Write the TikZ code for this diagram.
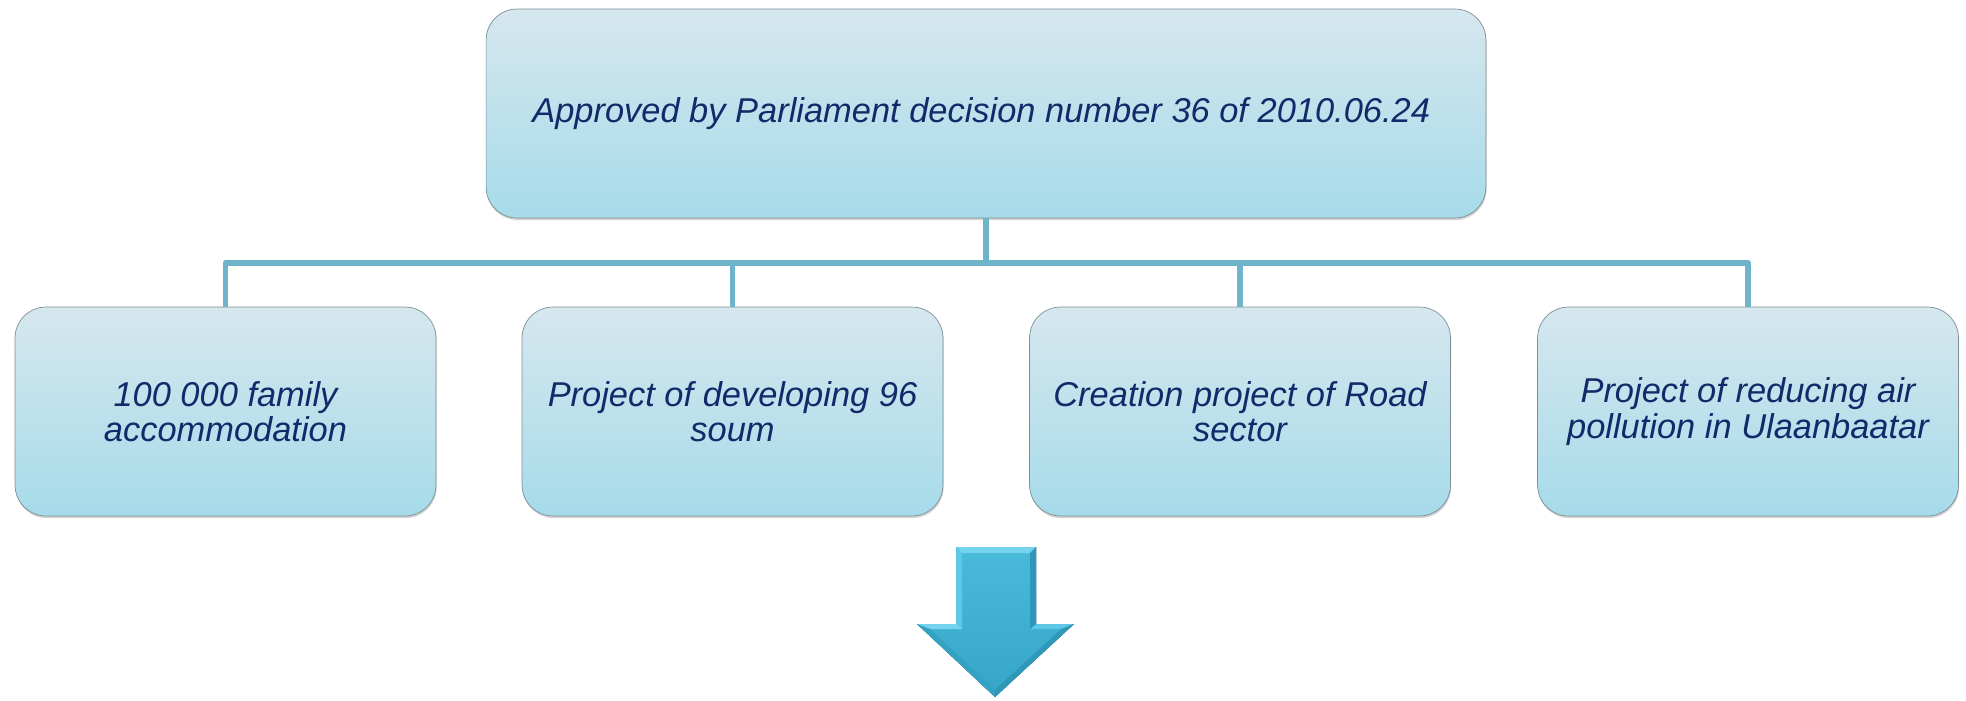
\documentclass[tikz,border=0pt]{standalone}
\usepackage{fontspec}
\setmainfont{Liberation Sans}
\usetikzlibrary{positioning,shadows}

\definecolor{boxtop}{HTML}{D6E7EE}
\definecolor{boxbottom}{HTML}{A6DBEA}
\definecolor{boxline}{HTML}{7E8E95}
\definecolor{textnavy}{HTML}{13296A}
\definecolor{busline}{HTML}{6EB5CB}
\definecolor{arrowblue}{HTML}{3AB4D8}
\definecolor{arrowlight}{HTML}{74D4EF}
\definecolor{arrowdark}{HTML}{2F98BA}

\begin{document}
\begin{tikzpicture}[x=0.02cm, y=-0.02cm,
	project/.style={draw=boxline,
		rounded corners=0.62cm,
		top color=boxtop,
		bottom color=boxbottom,
		minimum width=8.42cm,
		minimum height=4.18cm,
		align=center,
		text=textnavy,
		font=\fontsize{19.6}{20.2}\selectfont\itshape,
		drop shadow={shadow xshift=0.4pt, shadow yshift=-1.2pt, opacity=0.35}
	},
	link/.style={busline, line width=3.4pt, line join=round}
]

\useasboundingbox (0, 0) rectangle (1966, 700);

% Parliament decision
\node [project, minimum width=20cm] (approved_decision) at (986, 113.5) {
Approved by Parliament decision number 36 of 2010.06.24
};

% 100 000 family
\node [project] (family_accommodation) at (225.5, 411.5) {
100 000 family\\accommodation
};

% 96 soum
\node [project] (soum_project) at (732.5, 411.5) {
Project of developing 96\\soum
};

% Road sector
\node [project] (road_project) at (1240, 411.5) {
Creation project of Road\\sector
};

% Air pollution
\node [project] (air_pollution) at (1748, 411.5) {
Project of reducing air\\pollution in Ulaanbaatar
};


% Tree connectors
\coordinate (bus) at (986, 263);
\draw[link] (approved_decision.south) -- (bus);
\foreach \target in {family_accommodation, soum_project, road_project, air_pollution}
	\draw[link] (bus) -| (\target.north);


% Down arrow
\fill[top color=arrowblue!92!white, bottom color=arrowblue!92!black]
	(956, 547) -- (1036, 547) -- (1036, 624) -- (1074, 624) -- (995, 697)
	-- (917, 624) -- (956, 624) -- cycle;
\fill[arrowlight] (956, 547) -- (1036, 547) -- (1030, 553) -- (962, 553) -- cycle;
\fill[arrowlight!60!arrowblue] (956, 547) -- (962, 553) -- (962, 629) -- (956, 624) -- cycle;
\fill[arrowlight] (917, 624) -- (956, 624) -- (962, 629) -- (930, 629) -- cycle;
\fill[arrowlight!60!arrowblue] (1036, 624) -- (1074, 624) -- (1061, 629) -- (1030, 629) -- cycle;
\fill[arrowdark] (1036, 547) -- (1036, 624) -- (1030, 629) -- (1030, 553) -- cycle;
\fill[arrowdark] (1074, 624) -- (995, 697) -- (995, 690) -- (1061, 629) -- cycle;
\fill[arrowblue!90!black] (917, 624) -- (995, 697) -- (995, 690) -- (930, 629) -- cycle;

\end{tikzpicture}
\end{document}
